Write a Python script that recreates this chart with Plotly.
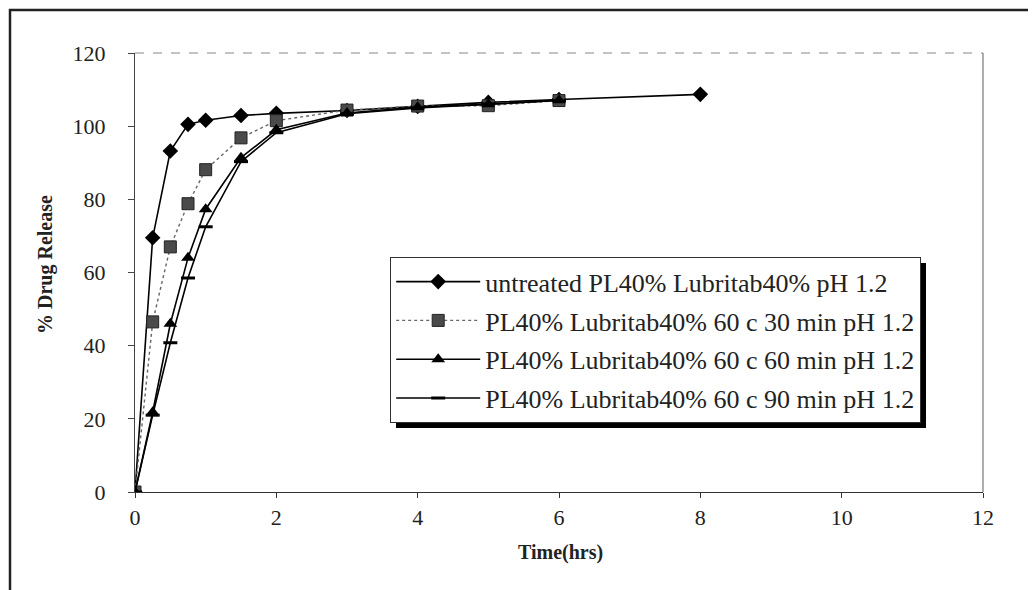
import plotly.graph_objects as go

time_untreated = [0, 0.25, 0.5, 0.75, 1, 1.5, 2, 3, 4, 5, 6, 8]
rel_untreated = [0, 69.5, 93.2, 100.5, 101.6, 102.9, 103.5, 104.3, 105.4, 106.5, 107.3, 108.7]

time_t = [0, 0.25, 0.5, 0.75, 1, 1.5, 2, 3, 4, 5, 6]
rel_30 = [0, 46.5, 67.0, 78.8, 88.1, 96.8, 101.5, 104.4, 105.5, 105.6, 107.0]
rel_60 = [0, 21.8, 46.0, 64.0, 77.3, 91.4, 99.0, 103.6, 105.2, 106.0, 107.1]
rel_90 = [0, 21.0, 40.8, 58.5, 72.5, 90.3, 98.2, 103.4, 105.0, 106.1, 107.0]

names = [
    "untreated PL40% Lubritab40% pH 1.2",
    "PL40% Lubritab40% 60 c 30 min pH 1.2",
    "PL40% Lubritab40% 60 c 60 min pH 1.2",
    "PL40% Lubritab40% 60 c 90 min pH 1.2",
]
x_ticks = [0, 2, 4, 6, 8, 10, 12]
y_ticks = [0, 20, 40, 60, 80, 100, 120]

SERIF = "Liberation Serif, Times New Roman, serif"
INK = "#222222"

fig = go.Figure()
fig.add_trace(go.Scatter(x=time_untreated, y=rel_untreated, name=names[0], mode="lines+markers",
                         legendgroup="a",
                         line=dict(color="black", width=1.6),
                         marker=dict(symbol="diamond", size=12, color="black")))
fig.add_trace(go.Scatter(x=time_t, y=rel_30, name=names[1], mode="lines+markers",
                         legendgroup="b",
                         line=dict(color="#666666", width=1.4, dash="dot"),
                         marker=dict(symbol="square", size=12, color="#4a4a4a",
                                     line=dict(color="#222222", width=1))))
fig.add_trace(go.Scatter(x=time_t, y=rel_60, name=names[2], mode="lines+markers",
                         legendgroup="c",
                         line=dict(color="black", width=1.6),
                         marker=dict(symbol="triangle-up", size=12, color="black")))
fig.add_trace(go.Scatter(x=time_t, y=rel_90, name=names[3], mode="lines+markers",
                         legendgroup="d",
                         line=dict(color="black", width=1.6),
                         marker=dict(symbol="line-ew", size=10, color="black",
                                     line=dict(color="black", width=3))))

OFF = 8  # page body margin
W, H = 1036, 590
PL, PR, PT, PB = 135, 983, 53, 492  # plot area in screen pixels
L = PL - OFF
T = PT - OFF
pw, ph = PR - PL, PB - PT
R = W - L - pw
B = H - T - ph

def px(xs):
    return (xs - PL) / pw

def py(ys):
    return (PB - ys) / ph

shapes = [
    dict(type="rect", xref="paper", yref="paper", x0=px(10), y0=py(660), x1=px(1090), y1=py(10),
         line=dict(color=INK, width=2.5), layer="below"),
    dict(type="line", xref="paper", yref="paper", x0=0, y0=1, x1=1, y1=1,
         line=dict(color="#888888", width=1.2, dash="dash")),
    dict(type="line", xref="paper", yref="paper", x0=1, y0=0, x1=1, y1=1,
         line=dict(color="#777777", width=1.2)),
    dict(type="rect", xref="paper", yref="paper", x0=px(396), y0=py(428), x1=px(926), y1=py(263),
         fillcolor="black", line=dict(width=0), layer="below"),
]

fig.update_layout(
    width=W, height=H,
    margin=dict(l=L, r=R, t=T, b=B),
    paper_bgcolor="white", plot_bgcolor="rgba(0,0,0,0)",
    font=dict(family=SERIF, size=22, color=INK),
    showlegend=True,
    legend=dict(x=px(390), y=py(257), xanchor="left", yanchor="top",
                bgcolor="white", bordercolor="#333333", borderwidth=1.2,
                font=dict(family=SERIF, size=26, color=INK),
                tracegroupgap=2, itemwidth=84, traceorder="grouped"),
    shapes=shapes,
    annotations=[
        dict(text="<b>% Drug Release</b>", x=px(45), y=py(265), xref="paper", yref="paper",
             xanchor="center", yanchor="middle",
             showarrow=False, textangle=-90, font=dict(family=SERIF, size=20, color=INK)),
        dict(text="<b>Time(hrs)</b>", x=px(560), y=py(552), xref="paper", yref="paper",
             xanchor="center", yanchor="middle",
             showarrow=False, font=dict(family=SERIF, size=20, color=INK)),
    ],
)
fig.update_xaxes(range=[0, 12], tickvals=x_ticks, ticktext=[str(v) for v in x_ticks],
                 showgrid=False, zeroline=False, showline=True, linecolor="#333333", linewidth=1.3,
                 ticks="outside", ticklen=5, tickcolor="#333333", ticklabelstandoff=0)
fig.update_yaxes(range=[0, 120], tickvals=y_ticks, ticktext=[str(v) for v in y_ticks],
                 showgrid=False, zeroline=False, showline=True, linecolor="#444444", linewidth=1.3,
                 ticks="outside", ticklen=6, tickcolor="#444444", ticklabelstandoff=18)

fig.write_html("out.html")
